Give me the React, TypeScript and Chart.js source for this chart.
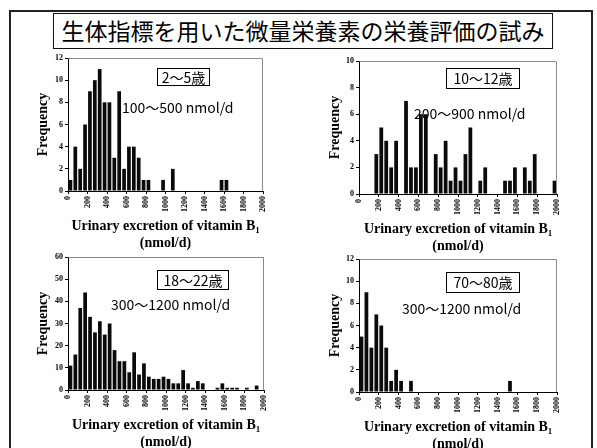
import React, { useEffect, useRef } from "react";
import { Chart, registerables } from "chart.js";

Chart.register(...registerables);

// ---- data ----
const binCenters = [
  25, 75, 125, 175, 225, 275, 325, 375, 425, 475,
  525, 575, 625, 675, 725, 775, 825, 875, 925, 975,
  1025, 1075, 1125, 1175, 1225, 1275, 1325, 1375, 1425, 1475,
  1525, 1575, 1625, 1675, 1725, 1775, 1825, 1875, 1925, 1975,
];
const xTickValues = [0, 200, 400, 600, 800, 1000, 1200, 1400, 1600, 1800, 2000];

const counts2to5 = [
  1, 4, 2, 6, 9, 10, 11, 8, 8, 3,
  9, 2, 4, 4, 3, 1, 1, 0, 0, 1,
  0, 2, 0, 0, 0, 0, 0, 0, 0, 0,
  0, 1, 1, 0, 0, 0, 0, 0, 0, 0,
];
const counts10to12 = [
  0, 0, 0, 3, 5, 4, 2, 4, 0, 7,
  2, 2, 6, 6, 0, 3, 2, 4, 1, 2,
  1, 3, 5, 0, 1, 2, 0, 0, 0, 1,
  1, 2, 0, 2, 1, 3, 0, 0, 0, 1,
];
const counts18to22 = [
  11, 16, 37, 44, 33, 26, 31, 25, 30, 18,
  13, 13, 8, 17, 7, 12, 6, 5, 5, 6,
  5, 3, 3, 9, 3, 1, 4, 3, 0, 0,
  1, 3, 1, 1, 1, 0, 1, 0, 2, 0,
];
const counts70to80 = [
  5, 9, 4, 7, 6, 4, 1, 2, 1, 0,
  1, 0, 0, 0, 0, 0, 0, 0, 0, 0,
  0, 0, 0, 0, 0, 0, 0, 0, 0, 0,
  1, 0, 0, 0, 0, 0, 0, 0, 0, 0,
];

const yTicks12 = [0, 2, 4, 6, 8, 10, 12];
const yTicks10 = [0, 2, 4, 6, 8, 10];
const yTicks60 = [0, 10, 20, 30, 40, 50, 60];

const titleText = "生体指標を用いた微量栄養素の栄養評価の試み";
const xTitle = ["Urinary excretion of vitamin B\u2081", "(nmol/d)"];
const yTitle = "Frequency";

const ageLabels = ["2～5歳", "10～12歳", "18～22歳", "70～80歳"];
const rangeLabels = ["100～500 nmol/d", "200～900 nmol/d", "300～1200 nmol/d", "300～1200 nmol/d"];

// ---- chart ----
const framePlugin = {
  id: "frame",
  afterDraw(chart: any) {
    const { ctx, chartArea } = chart;
    const l = Math.round(chartArea.left) + 0.5;
    const t = Math.round(chartArea.top) + 0.5;
    const r = Math.round(chartArea.right) - 0.5;
    const b = Math.round(chartArea.bottom);
    ctx.save();
    ctx.strokeStyle = "#8a8a8a";
    ctx.lineWidth = 1;
    ctx.beginPath();
    ctx.moveTo(l, t);
    ctx.lineTo(r, t);
    ctx.lineTo(r, b);
    ctx.stroke();
    ctx.restore();
  },
};

type PanelProps = {
  counts: number[];
  yTicks: number[];
  left: number;
  top: number;
  width: number;
  height: number;
  padTop: number;
  padRight: number;
  yWidth: number;
  yTitlePad: number;
};

const serif = "'Liberation Serif', 'DejaVu Serif', serif";

function Panel(p: PanelProps) {
  const ref = useRef<HTMLCanvasElement>(null);
  useEffect(() => {
    const chart = new Chart(ref.current as HTMLCanvasElement, {
      type: "bar",
      data: {
        datasets: [
          {
            data: binCenters.map((x, i) => ({ x, y: p.counts[i] })) as any,
            backgroundColor: "#0a0a0a",
            borderWidth: 0,
            barPercentage: 1.0,
            categoryPercentage: 0.76,
          },
        ],
      },
      options: {
        animation: false,
        responsive: false,
        maintainAspectRatio: false,
        layout: { padding: { top: p.padTop, right: p.padRight, left: 0, bottom: 0 } },
        plugins: { legend: { display: false }, tooltip: { enabled: false } },
        scales: {
          x: {
            type: "linear",
            min: 0,
            max: 2000,
            offset: false,
            grid: { offset: false, drawOnChartArea: false, drawTicks: true, tickLength: 3, color: "#000" },
            border: { display: true, color: "#000", width: 1 },
            afterBuildTicks: (s: any) => {
              s.ticks = xTickValues.map((v) => ({ value: v }));
            },
            ticks: {
              autoSkip: false,
              minRotation: 90,
              maxRotation: 90,
              padding: 2,
              color: "#000",
              font: { family: serif, size: 8, weight: "bold" },
              callback: (v: any) => String(v),
            },
            title: {
              display: true,
              text: xTitle,
              color: "#000",
              font: { family: serif, size: 14, weight: "bold", lineHeight: 1.2 },
              padding: { top: 0, bottom: 9.6 },
            },
            afterFit: (s: any) => {
              s.height = 70;
            },
          } as any,
          y: {
            min: 0,
            max: p.yTicks[p.yTicks.length - 1],
            grid: { drawOnChartArea: false, drawTicks: true, tickLength: 3, color: "#000" },
            border: { display: true, color: "#000", width: 1 },
            afterBuildTicks: (s: any) => {
              s.ticks = p.yTicks.map((v) => ({ value: v }));
            },
            ticks: {
              padding: 2,
              color: "#000",
              font: { family: serif, size: 8, weight: "bold" },
            },
            title: {
              display: true,
              text: yTitle,
              color: "#000",
              font: { family: serif, size: 14, weight: "bold", lineHeight: 1.2 },
              padding: { top: p.yTitlePad, bottom: 0 },
            },
            afterFit: (s: any) => {
              s.width = p.yWidth;
            },
          } as any,
        },
      },
      plugins: [framePlugin],
    });
    return () => chart.destroy();
  }, []);
  return (
    <canvas
      ref={ref}
      width={p.width}
      height={p.height}
      style={{ position: "absolute", left: p.left, top: p.top, width: p.width, height: p.height }}
    />
  );
}

const cjk = "'Noto Sans CJK JP', 'Noto Sans', sans-serif";

function AgeBox({ text, left, top, w, h }: { text: string; left: number; top: number; w: number; h: number }) {
  return (
    <div
      style={{
        position: "absolute",
        left,
        top,
        width: w,
        height: h,
        boxSizing: "border-box",
        border: "1px solid #000",
        fontFamily: cjk,
        fontSize: 14,
        lineHeight: `${h - 2}px`,
        textAlign: "center",
        color: "#000",
        whiteSpace: "nowrap",
      }}
    >
      {text}
    </div>
  );
}

function RangeText({ text, left, cy }: { text: string; left: number; cy: number }) {
  return (
    <div
      style={{
        position: "absolute",
        left,
        top: cy - 9,
        height: 18,
        lineHeight: "18px",
        fontFamily: cjk,
        fontSize: 14,
        color: "#000",
        whiteSpace: "nowrap",
      }}
    >
      {text}
    </div>
  );
}

export default function App() {
  return (
    <div
      style={{
        position: "fixed",
        left: 0,
        top: 0,
        width: 597,
        height: 448,
        overflow: "hidden",
        background: "#fff",
      }}
    >
      {/* slide frame */}
      <div
        style={{
          position: "absolute",
          left: 9,
          top: 10,
          width: 584,
          height: 460,
          boxSizing: "border-box",
          border: "2px solid #222",
        }}
      />
      {/* title */}
      <div
        style={{
          position: "absolute",
          left: 53,
          top: 13,
          width: 500,
          height: 36,
          boxSizing: "border-box",
          border: "1.5px solid #111",
          fontFamily: cjk,
          fontSize: 23,
          lineHeight: "33px",
          textAlign: "center",
          color: "#000",
          whiteSpace: "nowrap",
        }}
      >
        {titleText}
      </div>

      <Panel counts={counts2to5} yTicks={yTicks12} left={15} top={48} width={270} height={213}
        padTop={10} padRight={22} yWidth={53} yTitlePad={19.6} />
      <Panel counts={counts10to12} yTicks={yTicks10} left={305} top={51} width={280} height={213}
        padTop={10} padRight={28} yWidth={54} yTitlePad={21.6} />
      <Panel counts={counts18to22} yTicks={yTicks60} left={15} top={247} width={270} height={213}
        padTop={10} padRight={21} yWidth={53} yTitlePad={19.6} />
      <Panel counts={counts70to80} yTicks={yTicks12} left={305} top={249} width={280} height={213}
        padTop={10} padRight={28} yWidth={54} yTitlePad={21.6} />

      <AgeBox text={ageLabels[0]} left={157} top={68} w={53} h={18} />
      <AgeBox text={ageLabels[1]} left={446} top={68} w={74} h={21} />
      <AgeBox text={ageLabels[2]} left={157} top={270} w={72} h={20} />
      <AgeBox text={ageLabels[3]} left={446} top={272} w={74} h={21} />

      <RangeText text={rangeLabels[0]} left={122} cy={107} />
      <RangeText text={rangeLabels[1]} left={414} cy={113} />
      <RangeText text={rangeLabels[2]} left={111} cy={304} />
      <RangeText text={rangeLabels[3]} left={402} cy={308} />
    </div>
  );
}
